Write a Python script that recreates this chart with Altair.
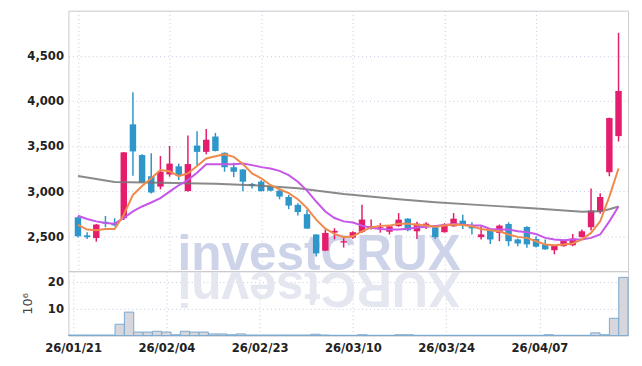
import altair as alt
import pandas as pd

# ---------------- data ----------------
tick_idx = [0, 10, 20, 30, 40, 50]
tick_labels = ["26/01/21", "26/02/04", "26/02/23", "26/03/10", "26/03/24", "26/04/07"]

open_ = [2710, 2510, 2480, 2660, 2645, 2700, 3740, 3400, 3165, 3050,
         3185, 3275, 3000, 3505, 3435, 3605, 3425, 3265, 3240, 3080,
         3105, 3055, 3005, 2935, 2848, 2745, 2520, 2340, 2540, 2430,
         2485, 2550, 2590, 2590, 2550, 2612, 2695, 2555, 2605, 2600,
         2545, 2610, 2673, 2610, 2490, 2574, 2537, 2636, 2465, 2603,
         2470, 2410, 2345, 2390, 2400, 2490, 2600, 2770, 3210, 3610]
high = [2720, 2545, 2635, 2725, 2700, 3435, 4095, 3410, 3420, 3390,
        3500, 3305, 3617, 3665, 3690, 3645, 3430, 3315, 3245, 3090,
        3120, 3060, 3020, 2958, 2867, 2795, 2520, 2575, 2590, 2500,
        2555, 2850, 2685, 2645, 2615, 2757, 2700, 2660, 2655, 2605,
        2645, 2757, 2738, 2655, 2610, 2580, 2630, 2655, 2475, 2610,
        2500, 2465, 2405, 2460, 2525, 2575, 3030, 2977, 3815, 4755]
low = [2490, 2470, 2440, 2600, 2610, 2680, 3170, 3095, 2975, 3020,
       3160, 3125, 2995, 3290, 3410, 3440, 3215, 3155, 3000, 3030,
       2995, 2998, 2910, 2800, 2730, 2580, 2275, 2335, 2465, 2375,
       2470, 2535, 2575, 2540, 2520, 2605, 2555, 2470, 2580, 2470,
       2540, 2605, 2580, 2520, 2465, 2415, 2445, 2390, 2390, 2372,
       2375, 2350, 2300, 2385, 2390, 2485, 2565, 2750, 3165, 3550]
close = [2500, 2490, 2630, 2640, 2620, 3430, 3440, 3100, 2985, 3215,
         3305, 3170, 3300, 3435, 3570, 3445, 3265, 3215, 3105, 3058,
         3000, 3005, 2940, 2840, 2768, 2585, 2310, 2537, 2560, 2445,
         2545, 2685, 2610, 2600, 2610, 2684, 2567, 2640, 2640, 2490,
         2630, 2695, 2621, 2587, 2520, 2464, 2618, 2445, 2420, 2410,
         2385, 2355, 2400, 2453, 2475, 2555, 2785, 2935, 3810, 4110]
volume = [0.2, 0.2, 0.2, 0.2, 0.2, 4.2, 8.7, 1.3, 1.3, 1.6,
          1.3, 0.3, 1.6, 1.3, 1.3, 0.6, 0.6, 0.3, 0.6, 0.2,
          0.2, 0.2, 0.2, 0.2, 0.2, 0.2, 0.5, 0.2, 0.1, 0.1,
          0.1, 0.3, 0.1, 0.1, 0.1, 0.3, 0.3, 0.1, 0.1, 0.1,
          0.1, 0.1, 0.1, 0.1, 0.1, 0.1, 0.1, 0.1, 0.1, 0.1,
          0.1, 0.3, 0.1, 0.1, 0.1, 0.1, 1.0, 0.3, 6.4, 21.6]
ma_short = [2625, 2574, 2566, 2581, 2581, 2738, 2958, 3057, 3142, 3233,
            3220, 3167, 3196, 3279, 3362, 3387, 3409, 3380, 3300, 3196,
            3142, 3068, 3021, 2977, 2911, 2812, 2684, 2585, 2526, 2490,
            2500, 2555, 2598, 2615, 2618, 2638, 2640, 2627, 2620, 2606,
            2618, 2629, 2625, 2610, 2581, 2566, 2555, 2519, 2493, 2482,
            2445, 2409, 2401, 2409, 2420, 2464, 2537, 2665, 2940, 3251]
ma_mid = [2727, 2691, 2665, 2647, 2640, 2702, 2775, 2830, 2874, 2922,
          2995, 3065, 3123, 3203, 3299, 3299, 3299, 3299, 3307, 3288,
          3266, 3251, 3225, 3178, 3104, 3006, 2885, 2775, 2702, 2665,
          2652, 2618, 2595, 2581, 2574, 2574, 2583, 2597, 2605, 2614,
          2624, 2636, 2629, 2618, 2618, 2581, 2574, 2574, 2555, 2544,
          2525, 2482, 2464, 2456, 2464, 2464, 2482, 2519, 2665, 2830]
ma_long_idx = [0, 4, 9, 15, 19, 24, 29, 35, 39, 44, 50, 55, 57, 58, 59]
ma_long = [3167, 3101, 3093, 3082, 3066, 3032, 2969, 2911, 2878, 2845, 2808, 2771, 2776, 2800, 2830]

# ---------------- style ----------------
PINK = "#e41d6d"
BLUE = "#2e96c9"
ORANGE = "#f08a4c"
PURPLE = "#c657e8"
GRAYL = "#767676"
GRID = "#c3c8de"
FONT = "'DejaVu Sans Condensed', 'Liberation Sans Narrow', 'Roboto', sans-serif"
FS = 13
W, H1, H2 = 565, 263, 65

n = len(close)
df = pd.DataFrame({
    "i": list(range(n)), "o": open_, "h": high, "l": low, "c": close,
    "v": volume, "ma5": ma_short, "ma10": ma_mid,
})
df["col"] = [PINK if c >= o else BLUE for o, c in zip(open_, close)]
df["x0"] = df["i"] - 0.5
df["x1"] = df["i"] + 0.5
df["z"] = 0
dfl = pd.DataFrame({"i": ma_long_idx, "m": ma_long})

xscale = alt.Scale(domain=[-0.5, 59.5], nice=False, zero=False)
label_expr = "[" + ",".join("'%s'" % s for s in tick_labels) + "][datum.value / 10]"

x_price_axis = alt.Axis(values=tick_idx, labels=False, ticks=False, domain=False,
                        grid=True, gridDash=[1, 3], gridColor=GRID, gridWidth=1,
                        title=None, labelPadding=0, maxExtent=0, minExtent=0)
y_price_axis = alt.Axis(values=[2500, 3000, 3500, 4000, 4500], format=",d",
                        labelFont=FONT, labelFontSize=FS, labelFontWeight="bold",
                        labelColor="#222222", ticks=False, domain=False, labelPadding=5,
                        minExtent=55, grid=True, gridDash=[1, 3], gridColor=GRID, title=None)
yscale = alt.Scale(domain=[2113, 5000], nice=False, zero=False)

base = alt.Chart(df)

# watermark
wm_text = alt.Chart(pd.DataFrame({"a": [0]})).mark_text(
    text="investCRUX", font="Liberation Sans", fontWeight="bold", fontSize=50,
    color="#cdd3e8", align="left", baseline="alphabetic"
).encode(x=alt.value(110), y=alt.value(262))

wick = base.mark_rule(strokeWidth=1.5).encode(
    x=alt.X("i:Q", scale=xscale, axis=x_price_axis),
    y=alt.Y("l:Q", scale=yscale, axis=y_price_axis),
    y2="h:Q",
    color=alt.Color("col:N", scale=None),
)
body = base.mark_bar(width=6.5).encode(
    x=alt.X("i:Q", scale=xscale),
    y=alt.Y("o:Q", scale=yscale),
    y2="c:Q",
    color=alt.Color("col:N", scale=None),
)
line_long = alt.Chart(dfl).mark_line(color=GRAYL, strokeWidth=2, opacity=0.85).encode(
    x=alt.X("i:Q", scale=xscale), y=alt.Y("m:Q", scale=yscale))
line_mid = base.mark_line(color=PURPLE, strokeWidth=2).encode(
    x=alt.X("i:Q", scale=xscale), y=alt.Y("ma10:Q", scale=yscale))
line_short = base.mark_line(color=ORANGE, strokeWidth=2).encode(
    x=alt.X("i:Q", scale=xscale), y=alt.Y("ma5:Q", scale=yscale))

price = alt.layer(wm_text, wick, body, line_long, line_mid, line_short).properties(width=W, height=H1)

# volume panel
chars = list("investCRUX")
widths = [0.278, 0.611, 0.556, 0.556, 0.556, 0.333, 0.722, 0.722, 0.722, 0.667]
refl = []
pos = 110.0
for ch, w in zip(chars, widths):
    cx = pos + w * 50 / 2
    pos += w * 50
    refl.append(alt.Chart(pd.DataFrame({"a": [0]})).mark_text(
        text=ch, font="Liberation Sans", fontWeight="bold", fontSize=50,
        color="#e4e6f0", align="center", baseline="alphabetic", angle=180
    ).encode(x=alt.value(cx), y=alt.value(1)))

vbars = base.mark_bar(fill="#d6d6dc", stroke="#7aa9cf", strokeWidth=1).encode(
    x=alt.X("x0:Q", scale=xscale, axis=alt.Axis(
        values=tick_idx, labelExpr=label_expr, labelFont=FONT, labelFontSize=FS,
        labelFontWeight="bold", labelColor="#222222", ticks=False, domain=False,
        labelPadding=6, grid=True, gridDash=[1, 3], gridColor=GRID, title=None)),
    x2="x1:Q",
    y=alt.Y("v:Q", scale=alt.Scale(domain=[0, 23.9], nice=False), axis=alt.Axis(
        values=[10, 20], labelFont=FONT, labelFontSize=FS, labelFontWeight="bold",
        labelColor="#222222", ticks=False, domain=False, labelPadding=5, minExtent=30,
        grid=True, gridDash=[1, 3], gridColor=GRID, title="10⁶",
        titleFont="DejaVu Sans", titleFontSize=13, titleFontWeight="normal",
        titleColor="#444444", titlePadding=4)),
    y2="z:Q",
)
vol = alt.layer(*refl, vbars).properties(width=W, height=H2)

chart = alt.vconcat(price, vol, spacing=0, bounds="flush").properties(
    padding={"left": 5, "top": 0, "right": 5, "bottom": 5}
).configure_view(stroke="#c9c9cf")

chart.save("out.html", embed_options={"renderer": "svg", "actions": False})
